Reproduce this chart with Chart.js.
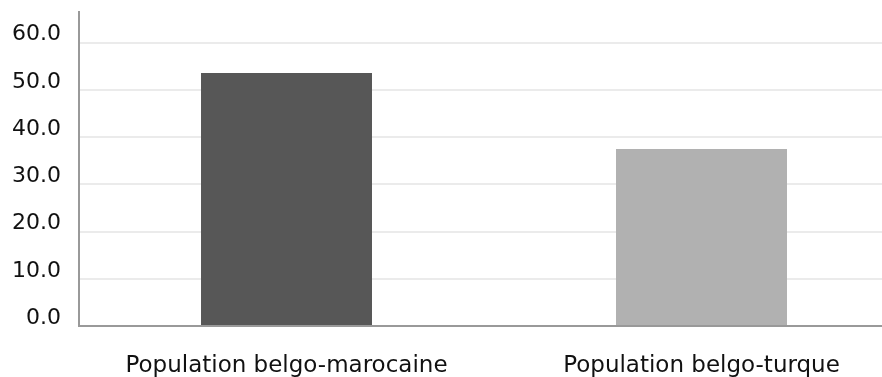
<!DOCTYPE html>
<html>
<head>
<meta charset="utf-8">
<script src="https://cdn.jsdelivr.net/npm/chart.js@4"></script>
<style>
  html, body { margin: 0; padding: 0; background: #fff; overflow: hidden; }
  /* the plot runs slightly past the right edge of the window */
  #wrap { width: 912px; height: 377px; }
</style>
</head>
<body>
<div id="wrap"><canvas id="c"></canvas></div>
<script>
// Share of each population (%)
const categories = ["Population belgo-marocaine", "Population belgo-turque"];
const values = [53.6, 37.5];
const barColors = ["#575757", "#b1b1b1"];

const FONT = "'DejaVu Sans', Verdana, sans-serif";

new Chart(document.getElementById("c"), {
  type: "bar",
  data: {
    labels: categories,
    datasets: [{
      data: values,
      backgroundColor: barColors,
      borderWidth: 0,
      barPercentage: 0.412,
      categoryPercentage: 1
    }]
  },
  options: {
    responsive: true,
    maintainAspectRatio: false,
    animation: false,
    layout: { padding: { left: 0, right: 3, top: 0, bottom: 0 } },
    plugins: { legend: { display: false }, tooltip: { enabled: false } },
    scales: {
      x: {
        grid: { display: false, drawTicks: false },
        border: { display: true, color: "#999999", width: 2 },
        ticks: {
          color: "#111111",
          font: { family: FONT, size: 23 },
          padding: 26,
          maxRotation: 0
        },
        afterFit: s => { s.height = 51; s.paddingLeft = 0; s.paddingRight = 0; }
      },
      y: {
        min: 0,
        max: 66.5,
        grid: { color: "#ebebeb", lineWidth: 2, drawTicks: false },
        border: { display: true, color: "#999999", width: 2 },
        ticks: {
          stepSize: 10,
          includeBounds: false,
          color: "#111111",
          font: { family: FONT, size: 22 },
          padding: 18,
          labelOffset: -8,
          callback: v => Number(v).toFixed(1)
        },
        afterFit: s => { s.width = 79; s.paddingTop = 12; s.paddingBottom = 0; }
      }
    }
  }
});
</script>
</body>
</html>
